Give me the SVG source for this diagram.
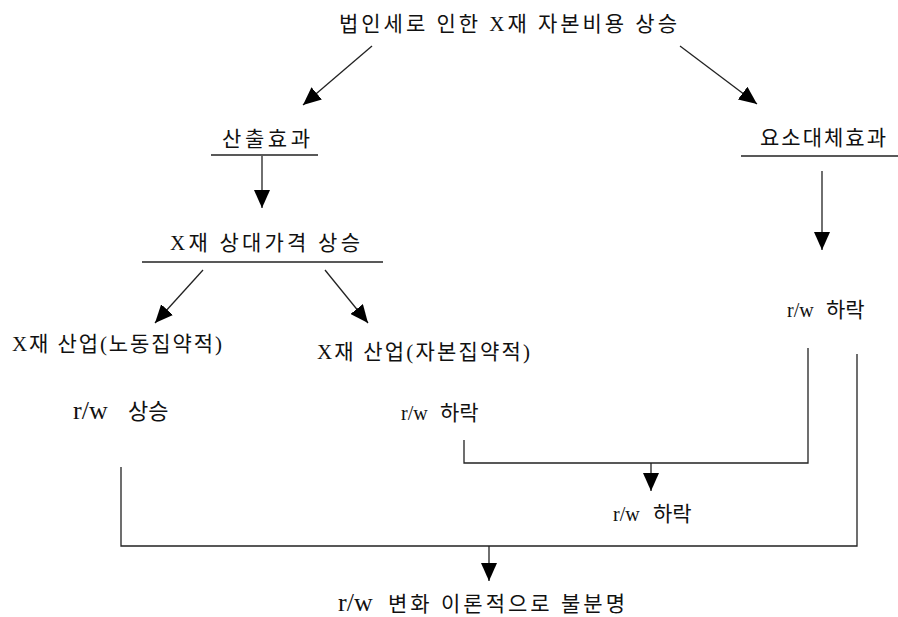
<svg xmlns="http://www.w3.org/2000/svg" width="898" height="617" viewBox="0 0 898 617">
<style>
text{font-family:"Liberation Serif","Noto Sans CJK KR",serif;fill:#111;font-size:20px}
.k{font-size:21px}
.rw{font-size:20px}
.big{font-size:26px}
.ln{stroke:#222;stroke-width:1.3;fill:none}
.ar{stroke:#222;stroke-width:1.3;fill:none;marker-end:url(#ah)}
</style>
<defs>
<marker id="ah" markerUnits="userSpaceOnUse" markerWidth="20" markerHeight="16" refX="18" refY="8" orient="auto">
<path d="M0,0 L18,8 L0,16 Z" fill="#000"/>
</marker>
</defs>
<rect width="898" height="617" fill="#fff"/>
<g id="n_title"><text class="k" x="339" y="31" textLength="338" lengthAdjust="spacing">법인세로 인한 X재 자본비용 상승</text></g>
<g id="n_output"><text class="k" x="222" y="146" textLength="88" lengthAdjust="spacing">산출효과</text><line class="ln" x1="211" y1="155" x2="318" y2="155"/></g>
<g id="n_subst"><text class="k" x="760" y="145" textLength="126" lengthAdjust="spacing">요소대체효과</text><line class="ln" x1="741" y1="156" x2="898" y2="156"/></g>
<g id="n_price"><text class="k" x="170" y="250" textLength="190" lengthAdjust="spacing">X재 상대가격 상승</text><line class="ln" x1="142" y1="262" x2="383" y2="262"/></g>
<g id="n_labor"><text class="k" x="12" y="351" textLength="210" lengthAdjust="spacing">X재 산업(노동집약적)</text></g>
<g id="n_capital"><text class="k" x="317" y="359" textLength="213" lengthAdjust="spacing">X재 산업(자본집약적)</text></g>
<g id="n_rise"><text class="big" x="73" y="419">r/w</text><text x="128" y="419" style="font-size:22px">상승</text></g>
<g id="n_fall1"><text class="rw" x="401" y="420">r/w</text><text class="k" x="440" y="420">하락</text></g>
<g id="n_fall2"><text class="rw" x="787" y="317">r/w</text><text class="k" x="826" y="317">하락</text></g>
<g id="n_fall3"><text class="rw" x="613" y="521">r/w</text><text class="k" x="653" y="521">하락</text></g>
<g id="n_result"><text class="big" x="338" y="611">r/w</text><text class="k" x="388" y="611" textLength="237" lengthAdjust="spacing">변화 이론적으로 불분명</text></g>
<g id="connectors">
<line class="ar" x1="372" y1="46" x2="303" y2="105"/>
<line class="ar" x1="680" y1="46" x2="757" y2="104"/>
<line class="ar" x1="262" y1="156" x2="262" y2="208"/>
<line class="ar" x1="822" y1="171" x2="822" y2="250"/>
<line class="ar" x1="203" y1="270" x2="155" y2="323"/>
<line class="ar" x1="325" y1="270" x2="368" y2="323"/>
<polyline class="ln" points="808,348 808,463 464,463 464,440"/>
<line class="ar" x1="651" y1="463" x2="651" y2="491"/>
<polyline class="ln" points="857,354 857,546 121,546 121,467"/>
<line class="ar" x1="489" y1="546" x2="489" y2="581"/>
</g>
</svg>
